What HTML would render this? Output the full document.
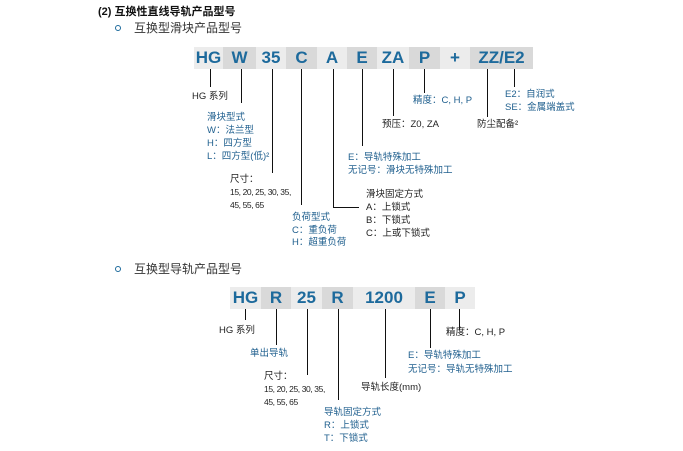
<!DOCTYPE html>
<html><head><meta charset="utf-8"><style>
body{margin:0;width:683px;height:451px;background:#fff;position:relative;overflow:hidden;font-family:"Liberation Sans","Noto Sans CJK SC",sans-serif}
.t{position:absolute;font-size:9.5px;line-height:10px;white-space:nowrap;color:#222}
.n{font-size:8.5px;letter-spacing:-0.4px}
.b{color:#1f5f8e}
.c{position:absolute;height:22px;line-height:22px;text-align:center;font-weight:bold;font-size:17px;color:#1d6a9c}
.l{background:#ececec}.d{background:#d9d9d9}
.v{position:absolute;width:1px;background:#111}
.h{position:absolute;height:1px;background:#111}
.bul{position:absolute;width:4px;height:4px;border:1.5px solid #1d6a9c;border-radius:50%}
</style></head><body>
<div class="t" style="left:98px;top:6px;font-size:11px;line-height:13px;font-weight:bold;color:#111">(2) 互换性直线导轨产品型号</div>
<div class="bul" style="left:115px;top:25px"></div>
<div class="t" style="left:134px;top:21px;font-size:12px;line-height:14px;color:#333">互换型滑块产品型号</div>
<div class="bul" style="left:115px;top:266px"></div>
<div class="t" style="left:134px;top:262px;font-size:12px;line-height:14px;color:#333">互换型导轨产品型号</div>

<div class="c l" style="left:194px;top:47px;width:29px">HG</div>
<div class="c d" style="left:223px;top:47px;width:33px">W</div>
<div class="c l" style="left:256px;top:47px;width:30px">35</div>
<div class="c d" style="left:286px;top:47px;width:31px">C</div>
<div class="c l" style="left:317px;top:47px;width:30px">A</div>
<div class="c d" style="left:347px;top:47px;width:30px">E</div>
<div class="c l" style="left:377px;top:47px;width:32px">ZA</div>
<div class="c d" style="left:409px;top:47px;width:31px">P</div>
<div class="c l" style="left:440px;top:47px;width:30px">+</div>
<div class="c d" style="left:470px;top:47px;width:63px">ZZ/E2</div>

<div class="v" style="left:210px;top:69px;height:18px"></div>
<div class="v" style="left:241px;top:69px;height:34px"></div>
<div class="v" style="left:272px;top:69px;height:104px"></div>
<div class="v" style="left:301px;top:69px;height:136px"></div>
<div class="v" style="left:333px;top:69px;height:139px"></div>
<div class="h" style="left:333px;top:207px;width:26px"></div>
<div class="v" style="left:362px;top:69px;height:77px"></div>
<div class="v" style="left:393px;top:69px;height:47px"></div>
<div class="v" style="left:424px;top:69px;height:24px"></div>
<div class="v" style="left:487px;top:69px;height:48px"></div>
<div class="v" style="left:514px;top:69px;height:18px"></div>

<div class="t" style="left:192px;top:92px">HG 系列</div>
<div class="t b" style="left:207px;top:111px;line-height:13px">滑块型式<br>W：法兰型<br>H：四方型<br>L：四方型(低)²</div>
<div class="t" style="left:230px;top:173px;line-height:13px">尺寸：<br><span class="n">15, 20, 25, 30, 35,</span><br><span class="n">45, 55, 65</span></div>
<div class="t b" style="left:292px;top:212px;line-height:12.5px">负荷型式<br>C：重负荷<br>H：超重负荷</div>
<div class="t" style="left:366px;top:188px;line-height:13px">滑块固定方式<br>A：上锁式<br>B：下锁式<br>C：上或下锁式</div>
<div class="t b" style="left:348px;top:151px;line-height:13px">E：导轨特殊加工<br>无记号：滑块无特殊加工</div>
<div class="t" style="left:382px;top:120px">预压：Z0, ZA</div>
<div class="t b" style="left:413px;top:96px">精度：C, H, P</div>
<div class="t" style="left:477px;top:120px">防尘配备²</div>
<div class="t b" style="left:505px;top:88px;line-height:13px">E2：自润式<br>SE：金属端盖式</div>

<div class="c l" style="left:230px;top:287px;width:31px">HG</div>
<div class="c d" style="left:261px;top:287px;width:30px">R</div>
<div class="c l" style="left:291px;top:287px;width:31px">25</div>
<div class="c d" style="left:322px;top:287px;width:31px">R</div>
<div class="c l" style="left:353px;top:287px;width:62px">1200</div>
<div class="c d" style="left:415px;top:287px;width:30px">E</div>
<div class="c l" style="left:445px;top:287px;width:30px">P</div>

<div class="v" style="left:245px;top:309px;height:11px"></div>
<div class="v" style="left:276px;top:309px;height:36px"></div>
<div class="v" style="left:307px;top:309px;height:66px"></div>
<div class="v" style="left:338px;top:309px;height:91px"></div>
<div class="v" style="left:385px;top:309px;height:69px"></div>
<div class="v" style="left:430px;top:309px;height:39px"></div>
<div class="v" style="left:459px;top:309px;height:21px"></div>

<div class="t" style="left:219px;top:326px">HG 系列</div>
<div class="t b" style="left:250px;top:349px">单出导轨</div>
<div class="t" style="left:264px;top:370px;line-height:13px">尺寸：<br><span class="n">15, 20, 25, 30, 35,</span><br><span class="n">45, 55, 65</span></div>
<div class="t b" style="left:324px;top:406px;line-height:13px">导轨固定方式<br>R：上锁式<br>T：下锁式</div>
<div class="t" style="left:361px;top:383px">导轨长度(mm)</div>
<div class="t b" style="left:408px;top:349px;line-height:14px">E：导轨特殊加工<br>无记号：导轨无特殊加工</div>
<div class="t" style="left:446px;top:328px">精度：C, H, P</div>
</body></html>
